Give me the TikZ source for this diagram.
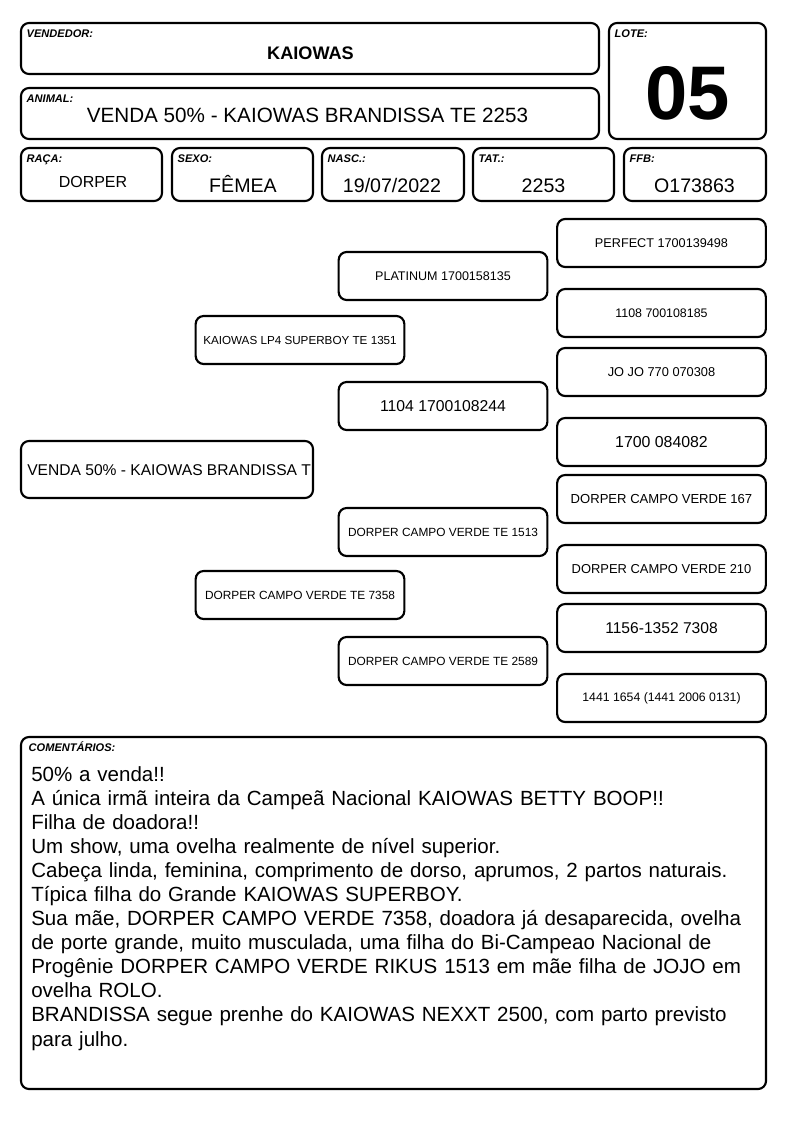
\documentclass[tikz,border=0pt]{standalone}
\usepackage{fontspec}
\setmainfont{Liberation Sans}
\begin{document}
\begin{tikzpicture}
  [x=0.75pt,y=-0.75pt,every node/.style={inner sep=0pt},
   cell/.style={draw,rounded corners=6pt,line width=1.6pt},
   tag/.style={anchor=base west,font=\bfseries\itshape\fontsize{8.3}{8.3}\selectfont},
   val/.style={anchor=base,font=\fontsize{14.7}{15}\selectfont},
   pedbox/.style={cell,minimum width=156.5pt,minimum height=36pt}]
  \useasboundingbox (0,0) rectangle (794,1123);
  % header
  \node[cell,minimum width=433.5pt,minimum height=38.25pt] (vend) at (310,48.5) {};
  \node[cell,minimum width=117.75pt,minimum height=87pt] (lote) at (687.5,81) {};
  \node[cell,minimum width=433.5pt,minimum height=38.25pt] (animal) at (310,113.5) {};
  \node[cell,minimum width=105.75pt,minimum height=39.75pt] (raca) at (91.5,174.5) {};
  \node[cell,minimum width=105.75pt,minimum height=39.75pt] (sexo) at (242.5,174.5) {};
  \node[cell,minimum width=106.5pt,minimum height=39.75pt] (nasc) at (393,174.5) {};
  \node[cell,minimum width=105.75pt,minimum height=39.75pt] (tat) at (543.5,174.5) {};
  \node[cell,minimum width=106.5pt,minimum height=39.75pt] (ffb) at (695,174.5) {};
  \foreach \cellname/\txt in {vend/VENDEDOR:,lote/LOTE:,animal/ANIMAL:,raca/RAÇA:,sexo/SEXO:,nasc/NASC.:,tat/TAT.:,ffb/FFB:}
    \node[tag] (\cellname tag) at ([shift={(6.5,16)}]\cellname.north west) {\txt};
  \node[val,font=\bfseries\fontsize{13.6}{14}\selectfont] (vendv) at (310.5,60) {KAIOWAS};
  \node[val,font=\bfseries\fontsize{57}{57}\selectfont] (lotev) at (688,120) {05};
  \node[val,font=\fontsize{15.5}{16}\selectfont] (animalv) at (307.5,123) {VENDA 50\% - KAIOWAS BRANDISSA TE 2253};
  \node[val,font=\fontsize{12}{12}\selectfont] (racav) at (93,188) {DORPER};
  \node[val] (sexov) at (243,193) {FÊMEA};
  \node[val] (nascv) at (392,193) {19/07/2022};
  \node[val] (tatv) at (543.5,193) {2253};
  \node[val] (ffbv) at (694.5,193) {O173863};
  % pedigree
  \node[cell,minimum width=219pt,minimum height=42.75pt] (main) at (167,469.5) {};
  \begin{scope}
    \clip (main.south west) rectangle ([xshift=-1.3pt]main.north east);
    \node[anchor=base west,font=\fontsize{11.7}{12}\selectfont] (mainv) at (27,475) {VENDA 50\% - KAIOWAS BRANDISSA TE 2253};
  \end{scope}
  \foreach \name/\x/\y/\size/\txt in {
      sire/300/340/8.75/{KAIOWAS LP4 SUPERBOY TE 1351},
      dam/300/595/8.9/{DORPER CAMPO VERDE TE 7358},
      ss/443/276/9.4/{PLATINUM 1700158135},
      sd/443/406/11.8/{1104 1700108244},
      ds/443/532/8.9/{DORPER CAMPO VERDE TE 1513},
      dd/443/661/8.9/{DORPER CAMPO VERDE TE 2589},
      sss/661.5/243/9.5/{PERFECT 1700139498},
      ssd/661.5/313/9.3/{1108 700108185},
      sds/661.5/372/9.6/{JO JO 770 070308},
      sdd/661.5/442/11.9/{1700 084082},
      dss/661.5/499/9.8/{DORPER CAMPO VERDE 167},
      dsd/661.5/569/9.7/{DORPER CAMPO VERDE 210},
      dds/661.5/628/11.7/{1156-1352 7308},
      ddd/661.5/698/9.2/{1441 1654 (1441 2006 0131)}}
    \node[pedbox,font=\fontsize{\size}{\size}\selectfont] (\name) at (\x,\y) {\txt};
  % comments
  \node[cell,minimum width=558.75pt,minimum height=264pt] (coment) at (393.5,913) {};
  \node[tag] (comenttag) at ([shift={(8.5,16)}]coment.north west) {COMENTÁRIOS:};
  \node[anchor=base west,text width=550pt,align=left,font=\fontsize{15.4}{18.07}\selectfont] (comentv) at (31,781) {50\% a venda!!\\
    A única irmã inteira da Campeã Nacional KAIOWAS BETTY BOOP!!\\
    Filha de doadora!!\\
    Um show, uma ovelha realmente de nível superior.\\
    Cabeça linda, feminina, comprimento de dorso, aprumos, 2 partos naturais.\\
    Típica filha do Grande KAIOWAS SUPERBOY.\\
    Sua mãe, DORPER CAMPO VERDE 7358, doadora já desaparecida, ovelha\\
    de porte grande, muito musculada, uma filha do Bi-Campeao Nacional de\\
    Progênie DORPER CAMPO VERDE RIKUS 1513 em mãe filha de JOJO em\\
    ovelha ROLO.\\
    BRANDISSA segue prenhe do KAIOWAS NEXXT 2500, com parto previsto\\
    para julho.};
\end{tikzpicture}
\end{document}
